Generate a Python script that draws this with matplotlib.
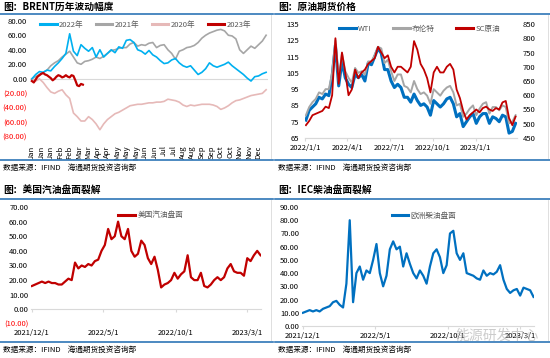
import matplotlib
matplotlib.use("Agg")
import matplotlib.pyplot as plt
from matplotlib.lines import Line2D
import numpy as np
import pandas as pd

plt.rcParams['font.family'] = ['Noto Sans CJK SC', 'DejaVu Sans']

# ---------------- data ----------------
# BRENT yearly swing, trading-day index (every 4 days)
brent_days = np.arange(0, 252, 4)
swing_2022 = [0, 6, 10, 9, 12, 11, 17, 22, 28, 35, 62, 38, 32, 47, 42, 38, 43, 30, 40, 30,
              35, 40, 36, 44, 42, 53, 54, 50, 40, 38, 34, 39, 33, 30, 25, 21, 22, 26, 28, 22,
              18, 16, 18, 12, 6, 9, 14, 22, 18, 16, 18, 20, 23, 18, 14, 10, 6, 1, -3, 3,
              4, 7, 9]
swing_2021 = [0, 3, 6, 9, 12, 18, 22, 25, 30, 34, 38, 30, 22, 20, 24, 25, 27, 30, 28, 31,
              35, 39, 40, 42, 43, 43, 48, 50, 45, 47, 46, 49, 50, 43, 46, 47, 40, 35, 27, 38,
              40, 43, 44, 46, 50, 56, 60, 63, 65, 67, 68, 66, 60, 59, 55, 40, 35, 40, 45, 42,
              47, 52, 60]
swing_2020 = [0, -3, 0, -5, -12, -18, -20, -17, -15, -22, -27, -47, -52, -58, -58, -52, -56, -62, -70, -62,
              -56, -52, -48, -46, -43, -40, -37, -36, -35, -35, -34, -33, -33, -32, -32, -31, -28, -29, -30, -32,
              -36, -38, -36, -37, -36, -35, -35, -35, -36, -38, -42, -40, -37, -33, -30, -29, -27, -25, -23, -22,
              -21, -20, -15]
days_2023 = np.arange(0, 56, 2)
swing_2023 = [-3, -5, -1, 3, 5, 7, 8, 6, 5, 3, 1, -2, 0, 3, 5, 4, 2, 3, 5, 3,
              2, 5, 4, -2, -9, -10, -7, -8]
month_labels = ['Jan', 'Jan', 'Jan', 'Feb', 'Feb', 'Mar', 'Mar', 'Apr', 'Apr', 'May', 'May', 'May',
                'Jun', 'Jun', 'Jul', 'Jul', 'Aug', 'Aug', 'Sep', 'Sep', 'Oct', 'Oct', 'Nov', 'Nov', 'Dec']

# crude futures, weekly from 2022-01-03
wti = [76, 82, 84, 86, 90, 89, 92, 91, 103, 122, 97, 112, 102, 98, 96, 104, 102, 104, 100, 111,
       110, 115, 120, 117, 107, 107, 100, 96, 98, 96, 90, 90, 87, 92, 88, 85, 86, 84, 79, 88,
       86, 84, 86, 89, 90, 86, 78, 80, 72, 75, 78, 80, 74, 78, 80, 80, 74, 78, 77, 75,
       79, 78, 68, 69, 74]
brent = [79, 84, 87, 89, 93, 92, 95, 95, 105, 125, 100, 117, 106, 102, 99, 108, 105, 106, 104, 112,
         112, 116, 121, 120, 111, 113, 106, 100, 104, 104, 97, 96, 93, 100, 95, 92, 93, 91, 86, 95,
         93, 91, 94, 96, 97, 93, 85, 86, 78, 80, 83, 85, 79, 83, 86, 87, 80, 84, 84, 82,
         85, 84, 74, 75, 79]
sc = [495, 510, 530, 535, 540, 545, 560, 555, 600, 800, 640, 750, 680, 600, 620, 690, 660, 680, 690, 710,
      720, 730, 770, 750, 730, 740, 700, 680, 700, 700, 690, 680, 700, 790, 760, 710, 690, 660, 610, 680,
      700, 680, 680, 700, 710, 690, 620, 590, 545, 515, 530, 540, 550, 540, 555, 560, 550, 545, 555, 550,
      575, 580, 520, 495, 525]

# cracks, weekly from 2021-12-01
gasoline_crack = [16, 17, 18, 19, 18, 19, 18, 18, 17, 17, 19, 21, 20, 32, 28, 30, 29, 31, 30, 33,
                  34, 40, 44, 55, 48, 50, 60, 50, 48, 55, 40, 36, 38, 47, 44, 35, 31, 36, 27, 15,
                  17, 18, 20, 25, 21, 24, 26, 37, 22, 20, 20, 25, 16, 15, 17, 20, 22, 20, 22, 28,
                  31, 26, 25, 25, 23, 35, 33, 37, 40, 37]
diesel_crack = [10, 11, 12, 11, 12, 11, 13, 14, 15, 18, 19, 16, 14, 32, 80, 18, 40, 45, 35, 42,
                40, 50, 62, 40, 30, 38, 58, 64, 58, 60, 45, 55, 47, 40, 36, 42, 38, 32, 45, 55,
                58, 52, 40, 46, 70, 72, 55, 50, 55, 40, 39, 38, 36, 35, 42, 38, 40, 39, 41, 46,
                35, 28, 25, 27, 28, 23, 29, 28, 27, 22]

crude_dates = pd.date_range('2022-01-03', periods=len(wti), freq='7D')
crack_dates = pd.date_range('2021-12-01', periods=len(gasoline_crack), freq='7D')

# ---------------- layout ----------------
W, H = 550, 358
fig = plt.figure(figsize=(5.5, 3.58), dpi=100)
fig.patch.set_facecolor('white')


def rect(x0, y0, x1, y1):
    return [x0 / W, 1 - y1 / H, (x1 - x0) / W, (y1 - y0) / H]


rule_c = '#2E75B6'
grey_txt = '#595959'
tick_fs = 5.5


def frame(x0, x1, y_title, y_rule, y_foot_rule, y_foot, title):
    fig.text((x0 + 3) / W, 1 - y_title / H, title, fontsize=7, fontweight='bold',
             va='center', ha='left')
    fig.add_artist(Line2D([x0 / W, x1 / W], [1 - y_rule / H] * 2, color=rule_c, lw=1.2))
    fig.add_artist(Line2D([x0 / W, x1 / W], [1 - y_foot_rule / H] * 2, color=rule_c, lw=1.2))
    fig.add_artist(Line2D([(x1 - 2) / W] * 2, [1 - (y_rule + 1) / H, 1 - (y_foot_rule - 2) / H],
                          color='#D9D9D9', lw=0.6))
    fig.text((x0 + 3) / W, 1 - y_foot / H, '数据来源：IFIND    海通期货投资咨询部', fontsize=5.5,
             va='center', ha='left')


def fmt_num(v):
    return '({:.2f})'.format(-v) if v < 0 else '{:.2f}'.format(v)


def y_labels(ax, ticks):
    ax.set_yticks(ticks)
    ax.set_yticklabels([fmt_num(v) for v in ticks])
    for t, v in zip(ax.get_yticklabels(), ticks):
        t.set_color('#FF0000' if v < 0 else 'black')


frame(0, 273, 7, 14, 160, 168, '图：BRENT历年波动幅度')
frame(275, 550, 7, 14, 160, 168, '图：原油期货价格')
frame(0, 273, 190, 199, 342, 350, '图：美国汽油盘面裂解')
frame(275, 550, 190, 199, 342, 350, '图：IEC柴油盘面裂解')

# ---------- panel 1: BRENT swings ----------
ax1 = fig.add_axes(rect(30, 20.7, 268, 137))
ax1.axhline(0, color='#D9D9D9', lw=0.8, zorder=1)
l21, = ax1.plot(brent_days, swing_2021, color='#A6A6A6', lw=1.2)
l20, = ax1.plot(brent_days, swing_2020, color='#E6B9B8', lw=1.2)
l22, = ax1.plot(brent_days, swing_2022, color='#00B0F0', lw=1.2)
l23, = ax1.plot(days_2023, swing_2023, color='#C00000', lw=1.6)
ax1.set_xlim(-2, 250)
ax1.set_ylim(-80, 80)
y_labels(ax1, np.arange(-80, 81, 20))
ax1.set_xticks(np.arange(0, 10 * len(month_labels), 10))
ax1.set_xticklabels(month_labels, rotation=90)
ax1.tick_params(axis='x', length=0, pad=6, labelsize=tick_fs)
ax1.tick_params(axis='y', length=0, pad=2, labelsize=tick_fs)
for s in ax1.spines.values():
    s.set_visible(False)
ax1.legend([l22, l21, l20, l23], ['2022年', '2021年', '2020年', '2023年'], ncol=4, loc='center',
           bbox_to_anchor=(0.485, 0.965), frameon=False, fontsize=5.5, handlelength=2.2,
           columnspacing=1.6, handletextpad=0.3, labelcolor=grey_txt)
for h in ax1.get_legend().get_lines():
    h.set_linewidth(2.2)

# ---------- panel 2: crude futures ----------
ax2 = fig.add_axes(rect(305, 24, 517, 138))
lw_, = ax2.plot(crude_dates, wti, color='#0070C0', lw=2.2)
lb_, = ax2.plot(crude_dates, brent, color='#A6A6A6', lw=1.4)
ax2.set_ylim(65, 135)
ax2.set_yticks(np.arange(65, 136, 10))
ax2.set_xlim(pd.Timestamp('2022-01-01'), pd.Timestamp('2023-03-30'))
xt2 = pd.to_datetime(['2022-01-01', '2022-04-01', '2022-07-01', '2022-10-01', '2023-01-01'])
ax2.set_xticks(xt2)
ax2.set_xticklabels(['2022/1/1', '2022/4/1', '2022/7/1', '2022/10/1', '2023/1/1'])
ax2.tick_params(axis='x', length=2, color='#D9D9D9', pad=2, labelsize=tick_fs)
ax2.tick_params(axis='y', length=0, pad=4, labelsize=tick_fs)
ax2b = ax2.twinx()
ls_, = ax2b.plot(crude_dates, sc, color='#C00000', lw=1.3)
ax2b.set_ylim(450, 850)
ax2b.set_yticks(np.arange(450, 851, 50))
ax2b.tick_params(axis='y', length=0, pad=4, labelsize=tick_fs)
for a in (ax2, ax2b):
    for k, s in a.spines.items():
        s.set_visible(k == 'bottom')
        s.set_color('#D9D9D9')
ax2b.legend([lw_, lb_, ls_], ['WTI', '布伦特', 'SC原油'], ncol=3, loc='center',
            bbox_to_anchor=(0.54, 0.955), frameon=False, fontsize=5.5, handlelength=2.2,
            columnspacing=2.8, handletextpad=0.3, labelcolor=grey_txt)
for h in ax2b.get_legend().get_lines():
    h.set_linewidth(2.2)

# ---------- panel 3: gasoline crack ----------
xt3 = pd.to_datetime(['2021-12-01', '2022-05-01', '2022-10-01', '2023-03-01'])
xl3 = ['2021/12/1', '2022/5/1', '2022/10/1', '2023/3/1']
ax3 = fig.add_axes(rect(31, 207, 261, 324))
lg, = ax3.plot(crack_dates, gasoline_crack, color='#C00000', lw=1.6)
ax3.set_ylim(-10, 70)
y_labels(ax3, np.arange(-10, 71, 10))
ax3.set_xlim(pd.Timestamp('2021-11-29'), pd.Timestamp('2023-03-30'))
ax3.set_xticks(xt3)
ax3.set_xticklabels(xl3)
ax3.spines['bottom'].set_position(('data', 0))
ax3.tick_params(axis='x', length=2, color='#D9D9D9', pad=12, labelsize=tick_fs)
ax3.tick_params(axis='y', length=0, pad=2, labelsize=tick_fs)
for k, s in ax3.spines.items():
    s.set_visible(k == 'bottom')
    s.set_color('#D9D9D9')
ax3.legend([lg], ['美国汽油盘面'], loc='center', bbox_to_anchor=(0.52, 0.93), frameon=False,
           fontsize=5.5, handlelength=2.2, handletextpad=0.3, labelcolor=grey_txt)
ax3.get_legend().get_lines()[0].set_linewidth(2.2)

# ---------- panel 4: diesel crack ----------
ax4 = fig.add_axes(rect(302, 207, 534, 326))
ld, = ax4.plot(crack_dates, diesel_crack, color='#0070C0', lw=1.6)
ax4.set_ylim(0, 90)
y_labels(ax4, np.arange(0, 91, 10))
ax4.set_xlim(pd.Timestamp('2021-11-29'), pd.Timestamp('2023-03-30'))
ax4.set_xticks(xt3)
ax4.set_xticklabels(xl3)
ax4.tick_params(axis='x', length=2, color='#D9D9D9', pad=2, labelsize=tick_fs)
ax4.tick_params(axis='y', length=0, pad=2, labelsize=tick_fs)
for k, s in ax4.spines.items():
    s.set_visible(k == 'bottom')
    s.set_color('#D9D9D9')
ax4.legend([ld], ['欧洲柴油盘面'], loc='center', bbox_to_anchor=(0.526, 0.924), frameon=False,
           fontsize=5.5, handlelength=2.2, handletextpad=0.3, labelcolor=grey_txt)
ax4.get_legend().get_lines()[0].set_linewidth(2.2)

# watermark
fig.text(455 / W, 1 - 336 / H, '能源研发中心', fontsize=10, color='#BFBFBF', alpha=0.8,
         va='center', ha='left')

fig.savefig('out.png', dpi=100)
